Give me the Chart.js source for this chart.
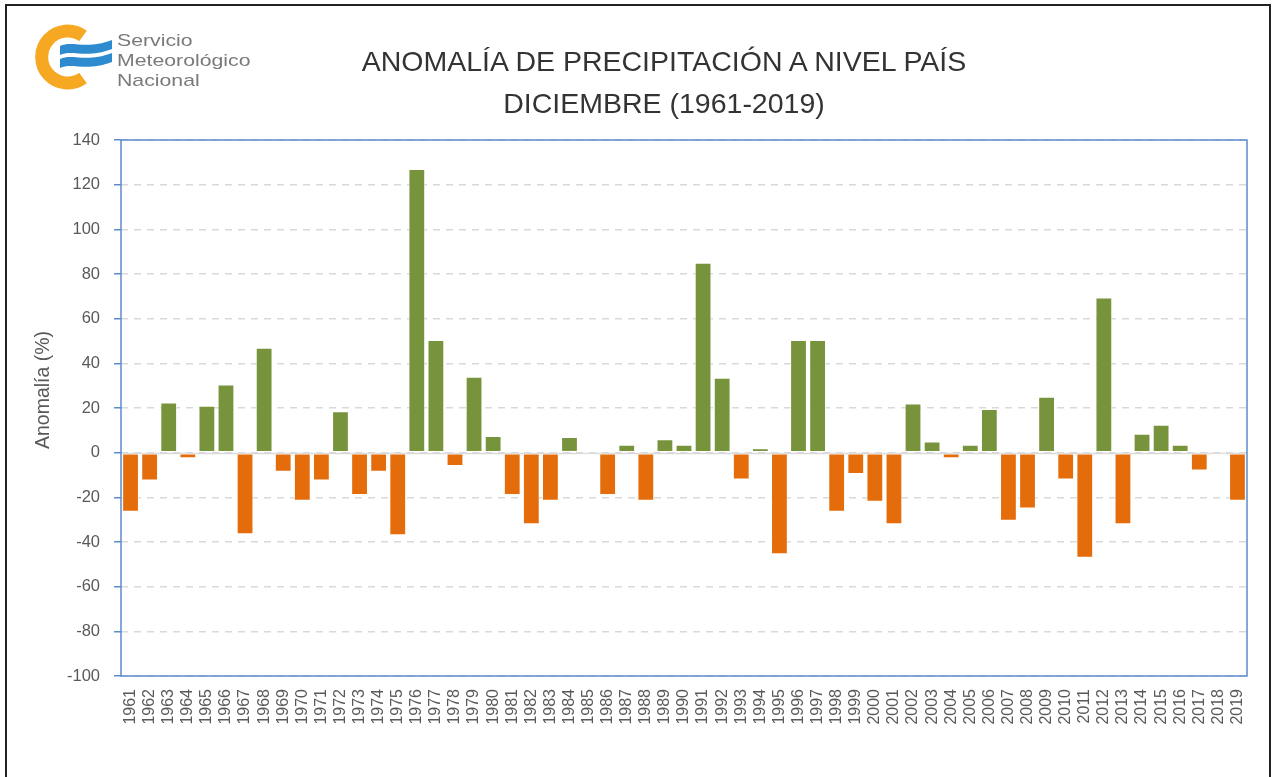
<!DOCTYPE html>
<html>
<head>
<meta charset="utf-8">
<script src="https://cdn.jsdelivr.net/npm/chart.js@4"></script>
<style>
  html, body { margin: 0; padding: 0; background: #fff; }
  #wrap { position: relative; width: 1277px; height: 777px; overflow: hidden; }
  #frame {
    position: absolute; left: 5px; top: 4px; width: 1266px; height: 790px;
    border: 2px solid #222; box-sizing: border-box;
  }
  #cv { position: absolute; left: 0; top: 0; }
  #title {
    position: absolute; left: 314px; top: 40px; width: 700px;
    text-align: center; color: #333;
    font-family: "Liberation Sans", Arial, sans-serif;
    font-size: 28.5px; line-height: 42px;
  }
  #ytitle {
    position: absolute; left: -18px; top: 378px; width: 120px; height: 24px;
    text-align: center; color: #595959; white-space: nowrap;
    font-family: "Liberation Sans", Arial, sans-serif; font-size: 19.5px; line-height: 24px;
    transform: rotate(-90deg); transform-origin: 50% 50%;
  }
  #logo { position: absolute; left: 30px; top: 22px; }
  #logotext {
    position: absolute; left: 117px; top: 31px; color: #7a7a7a;
    font-family: "Liberation Sans", Arial, sans-serif; font-size: 17px; line-height: 20px;
    transform: scaleX(1.25); transform-origin: left top;
  }
</style>
</head>
<body>
<div id="wrap">
  <canvas id="cv" width="1277" height="777"></canvas>
  <div id="frame"></div>
  <svg id="logo" width="86" height="72" viewBox="0 0 86 72">
    <path d="M 53 14 A 26 26 0 1 0 53 56" fill="none" stroke="#f7a823" stroke-width="13"/>
    <path d="M 30 24 C 42 18, 56 28, 82 18 L 82 27 C 56 37, 42 27, 30 33 Z" fill="#2e8bcf"/>
    <path d="M 30 37 C 42 31, 56 41, 82 31 L 82 40 C 56 50, 42 40, 30 46 Z" fill="#2e8bcf"/>
  </svg>
  <div id="logotext">Servicio<br>Meteorológico<br>Nacional</div>
  <div id="title">ANOMALÍA DE PRECIPITACIÓN A NIVEL PAÍS<br>DICIEMBRE (1961-2019)</div>
  <div id="ytitle">Anomalía (%)</div>
</div>
<script>
"use strict";

// December national precipitation anomaly (%)
const years = [
  "1961","1962","1963","1964","1965","1966","1967","1968","1969","1970",
  "1971","1972","1973","1974","1975","1976","1977","1978","1979","1980",
  "1981","1982","1983","1984","1985","1986","1987","1988","1989","1990",
  "1991","1992","1993","1994","1995","1996","1997","1998","1999","2000",
  "2001","2002","2003","2004","2005","2006","2007","2008","2009","2010",
  "2011","2012","2013","2014","2015","2016","2017","2018","2019"
];
const anomaly = [
  -26.5, -12.5, 22.5, -2.5, 21, 30.5, -36.5, 47, -8.5, -21.5,
  -12.5, 18.5, -19, -8.5, -37, 127, 50.5, -6, 34, 7.5,
  -19, -32, -21.5, 7, -1, -19, 3.5, -21.5, 6, 3.5,
  85, 33.5, -12, 2, -45.5, 50.5, 50.5, -26.5, -9.5, -22,
  -32, 22, 5, -2.5, 3.5, 19.5, -30.5, -25, 25, -12,
  -47, 69.5, -32, 8.5, 12.5, 3.5, -8, -1, -21.5
];
const yTicks = [140, 120, 100, 80, 60, 40, 20, 0, -20, -40, -60, -80, -100];

const C_POS = "#77933c";
const C_NEG = "#e56c0a";
const C_GRID = "#d9d9d9";
const C_AXIS = "#5b8bd0";
const C_TICK = "#595959";
const FONT = '"Liberation Sans", Arial, sans-serif';

// solid zero line + blue box around the plot
const plotFrame = {
  id: "plotFrame",
  beforeDatasetsDraw(chart) {
    const { ctx, chartArea: a, scales } = chart;
    const y0 = Math.round(scales.y.getPixelForValue(0)) + 0.5;
    ctx.save();
    ctx.strokeStyle = C_GRID;
    ctx.lineWidth = 1.5;
    ctx.beginPath();
    ctx.moveTo(a.left, y0);
    ctx.lineTo(a.right, y0);
    ctx.stroke();
    ctx.restore();
  },
  afterDraw(chart) {
    const { ctx, chartArea: a } = chart;
    ctx.save();
    ctx.strokeStyle = C_AXIS;
    ctx.lineWidth = 1.5;
    ctx.strokeRect(a.left, a.top, a.right - a.left, a.bottom - a.top);
    ctx.restore();
  },
};

new Chart(document.getElementById("cv").getContext("2d"), {
  type: "bar",
  data: {
    labels: years,
    datasets: [{
      data: anomaly,
      backgroundColor: anomaly.map((v) => (v >= 0 ? C_POS : C_NEG)),
      borderColor: "rgba(255,255,255,0.6)",
      borderWidth: 1,
      borderSkipped: false,
      barPercentage: 0.88,
      categoryPercentage: 1,
    }],
  },
  options: {
    responsive: false,
    animation: false,
    devicePixelRatio: 1,
    layout: { padding: { left: 0, top: 140, right: 30, bottom: 0 } },
    plugins: { legend: { display: false }, tooltip: { enabled: false } },
    scales: {
      x: {
        grid: { display: false },
        border: { display: false },
        ticks: {
          color: C_TICK, font: { family: FONT, size: 16 },
          minRotation: 90, maxRotation: 90, autoSkip: false, padding: 5,
        },
        afterFit: (s) => { s.height = 101; },
      },
      y: {
        min: -100, max: 140,
        afterBuildTicks: (s) => { s.ticks = yTicks.map((v) => ({ value: v })); },
        grid: {
          color: C_GRID, lineWidth: 1.5,
          tickColor: C_AXIS, tickLength: 7, tickBorderDash: [],
        },
        border: { display: false, dash: [7, 6] },
        ticks: { color: C_TICK, font: { family: FONT, size: 16.5 }, padding: 14 },
        afterFit: (s) => { s.width = 121; },
      },
    },
  },
  plugins: [plotFrame],
});
</script>
</body>
</html>
